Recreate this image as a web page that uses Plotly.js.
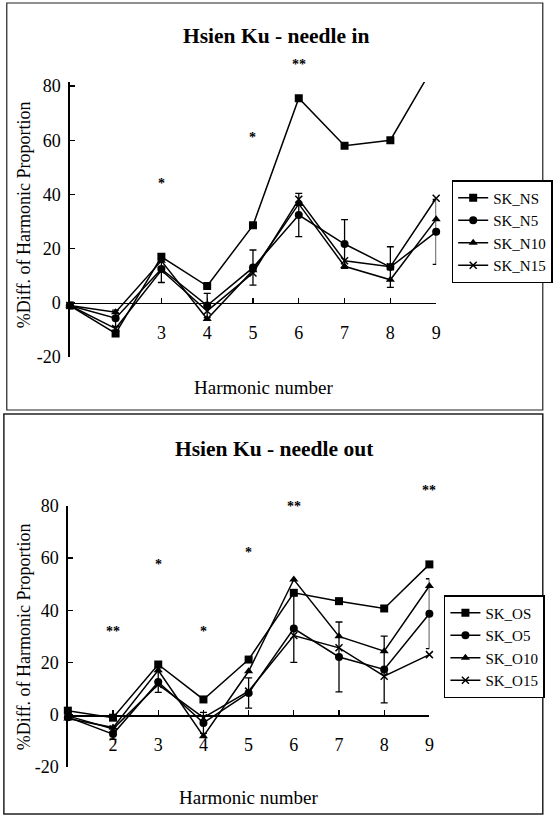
<!DOCTYPE html>
<html>
<head>
<meta charset="utf-8">
<script src="https://cdn.plot.ly/plotly-3.0.1.min.js"></script>
<style>html,body{margin:0;padding:0;background:#fff;}#chart{width:553px;height:824px;}</style>
</head>
<body>
<div id="chart"></div>
<script>
// ---- data ----
var harmonics = [1, 2, 3, 4, 5, 6, 7, 8, 9];

// needle in
var SK_NS  = [-1, -11.3, 17, 6.2, 28.6, 75.5, 58, 60, 89];
var SK_N5  = [-1, -5.7, 12.5, -1, 13, 32.4, 21.7, 13.2, 26.2];
var SK_N5_err = [0, 3, 5, 4.5, 6.5, 8, 9, 7.5, 12];
var SK_N10 = [-1, -3.5, 15.5, -6, 12, 36.5, 13.5, 8.5, 30.8];
var SK_N15 = [-1, -9.5, 12, -3, 11, 38.2, 15.5, 13.3, 38.6];

// needle out
var SK_OS  = [1.5, -1.2, 19.2, 5.8, 21.1, 46.7, 43.5, 40.7, 57.6];
var SK_O5  = [-1, -7.5, 12.5, -3.2, 8.3, 33, 22.1, 17.3, 38.7];
var SK_O5_err = [0, 2, 4, 4, 5.8, 13, 13.4, 12.8, 13.4];
var SK_O10 = [-1.5, -5, 17, -8.3, 16.6, 51.8, 30, 24.3, 49.3];
var SK_O15 = [-0.5, -5.5, 11.5, -1.2, 9, 30.3, 25.6, 14.7, 23];

var xTickTop = [3, 4, 5, 6, 7, 8, 9];
var xTickBot = [2, 3, 4, 5, 6, 7, 8, 9];
var yTicks = [-20, 0, 20, 40, 60, 80];

var sigTopX = [3, 5, 6];
var sigTopY = [45, 62, 89];
var sigTopT = ['*', '*', '**'];
var sigBotX = [2, 3, 4, 5, 6, 9];
var sigBotY = [33, 58.6, 33, 63.3, 81, 87];
var sigBotT = ['**', '*', '*', '*', '**', '**'];

var titleTop = 'Hsien Ku - needle in';
var titleBot = 'Hsien Ku - needle out';
var yTitle = '%Diff. of Harmonic Proportion';
var xTitle = 'Harmonic number';

// ---- drawing ----
var FONT = 'Liberation Serif';
var W = 553, H = 824;
function px(x) { return x / W; }
function py(y) { return 1 - y / H; }

function series(name, y, sym, xa, ya, leg, err) {
  var isX = sym.indexOf('x') === 0;
  var t = {
    type: 'scatter', mode: 'lines+markers', name: name,
    x: harmonics, y: y, xaxis: xa, yaxis: ya, legend: leg,
    line: {color: '#000', width: 1.5},
    marker: {symbol: sym, size: isX ? 7 : 8, color: '#000',
             line: {color: '#000', width: isX ? 1.5 : 0}},
    cliponaxis: false
  };
  if (err) {
    t.error_y = {type: 'data', array: err, visible: true, color: '#000', thickness: 1.3, width: 3.5};
  }
  return t;
}

var data = [
  series('SK_NS', SK_NS, 'square', 'x', 'y', 'legend'),
  series('SK_N5', SK_N5, 'circle', 'x', 'y', 'legend', SK_N5_err),
  series('SK_N10', SK_N10, 'triangle-up', 'x', 'y', 'legend'),
  series('SK_N15', SK_N15, 'x-thin', 'x', 'y', 'legend'),
  series('SK_OS', SK_OS, 'square', 'x2', 'y2', 'legend2'),
  series('SK_O5', SK_O5, 'circle', 'x2', 'y2', 'legend2', SK_O5_err),
  series('SK_O10', SK_O10, 'triangle-up', 'x2', 'y2', 'legend2'),
  series('SK_O15', SK_O15, 'x-thin', 'x2', 'y2', 'legend2')
];
data[0].cliponaxis = true;

function xaxis(domain, pos, ticks) {
  return {
    domain: domain, range: [1, 9], anchor: 'free', position: pos,
    showline: true, linecolor: '#000', linewidth: 1.5,
    ticks: 'inside', ticklen: 5, tickwidth: 1.3, tickcolor: '#000',
    tickmode: 'array', tickvals: ticks, ticktext: ticks.map(String),
    ticklabelstandoff: 13,
    tickfont: {family: FONT, size: 18, color: '#000'},
    showgrid: false, zeroline: false, fixedrange: true
  };
}
function yaxis(domain, range, xa) {
  return {
    domain: domain, range: range, anchor: xa,
    showline: true, linecolor: '#000', linewidth: 1.5,
    ticks: 'inside', ticklen: 5, tickwidth: 1.3, tickcolor: '#000',
    tickmode: 'array', tickvals: yTicks, ticktext: yTicks.map(String),
    ticklabelstandoff: 4,
    tickfont: {family: FONT, size: 18, color: '#000'},
    showgrid: false, zeroline: false, fixedrange: true
  };
}
// invisible axis sharing the same scale but extending higher (for significance marks above the plot)
function extAxis(botPx, topPx, range, extTopPx, xa) {
  var ppu = (botPx - topPx) / (range[1] - range[0]);
  var top = range[0] + (botPx - extTopPx) / ppu;
  return {domain: [py(botPx), py(extTopPx)], range: [range[0], top], anchor: xa,
          visible: false, showgrid: false, zeroline: false, fixedrange: true};
}

var yRangeTop = [-20, 81.5], yRangeBot = [-20, 80];

var annotations = [];
function txt(text, x, y, size, bold, angle) {
  annotations.push({text: bold ? '<b>' + text + '</b>' : text, x: px(x), y: py(y), xref: 'paper', yref: 'paper',
    showarrow: false, xanchor: 'center', yanchor: 'middle', textangle: angle || 0,
    font: {family: FONT, size: size, color: '#000'}});
}
txt(titleTop, 285, 36, 21.5, true);
txt(titleBot, 283, 449, 21.5, true);
txt(yTitle, 25, 215, 18, false, -90);
txt(yTitle, 25, 637, 18, false, -90);
txt(xTitle, 272, 387, 19, false);
txt(xTitle, 256, 797, 19, false);

sigTopX.forEach(function (x, i) {
  annotations.push({text: '<b>' + sigTopT[i] + '</b>', x: x, y: sigTopY[i], xref: 'x', yref: 'y3', showarrow: false,
    yshift: -3, font: {family: FONT, size: 14, color: '#000'}});
});
sigBotX.forEach(function (x, i) {
  annotations.push({text: '<b>' + sigBotT[i] + '</b>', x: x, y: sigBotY[i], xref: 'x2', yref: 'y4', showarrow: false,
    yshift: -3, font: {family: FONT, size: 14, color: '#000'}});
});

var legendStyle = function (x, y) {
  return {x: x, y: y, xanchor: 'left', yanchor: 'top', xref: 'paper', yref: 'paper',
    bgcolor: '#fff', bordercolor: '#000', borderwidth: 1.5, itemwidth: 30,
    font: {family: FONT, size: 15, color: '#000'}, tracegroupgap: 0};
};

var layout = {
  width: W, height: H,
  margin: {l: 0, r: 0, t: 0, b: 0},
  font: {family: FONT, color: '#000'},
  paper_bgcolor: '#fff', plot_bgcolor: 'rgba(0,0,0,0)',
  showlegend: true,
  xaxis: xaxis([px(72), px(450)], py(302.8), xTickTop),
  yaxis: yaxis([py(357), py(82)], yRangeTop, 'x'),
  xaxis2: xaxis([px(70), px(443)], py(715), xTickBot),
  yaxis2: yaxis([py(766.7), py(506)], yRangeBot, 'x2'),
  yaxis3: extAxis(357, 82, yRangeTop, 20, 'x'),
  yaxis4: extAxis(766.7, 506, yRangeBot, 470, 'x2'),
  legend: legendStyle(px(466), py(180)),
  legend2: legendStyle(px(458), py(595)),
  annotations: annotations,
  shapes: [
    {type: 'rect', xref: 'paper', yref: 'paper', x0: px(7), x1: px(560), y0: py(410), y1: py(3),
     line: {color: '#222', width: 1.2}},
    {type: 'rect', xref: 'paper', yref: 'paper', x0: px(4), x1: px(560), y0: py(814), y1: py(414),
     line: {color: '#222', width: 1.5}}
  ]
};

Plotly.newPlot('chart', data, layout, {staticPlot: true});
</script>
</body>
</html>
